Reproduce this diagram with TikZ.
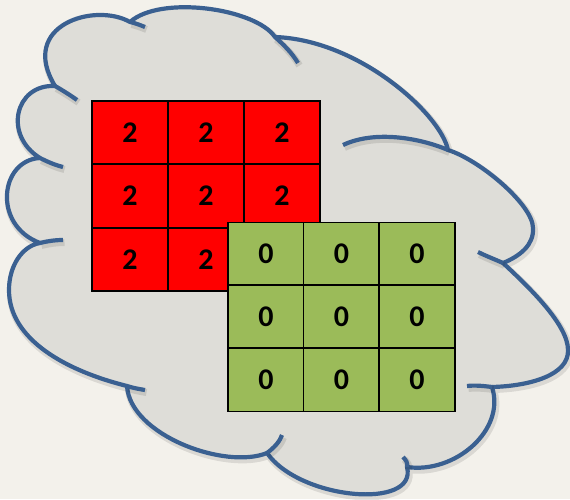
\documentclass[tikz,border=0pt]{standalone}
\usepackage{fontspec}
\setmainfont{Carlito}
\usepackage{tikz}

\begin{document}
\begin{tikzpicture}[x=1pt,y=-1pt,
  cloudline/.style={draw=cloudblue,line width=4.2pt,preaction={draw=black,opacity=0.1,line width=7pt,transform canvas={shift={(1.5pt,-2.5pt)}}}},
  redcell/.style={draw=black,fill=red,line width=1.7pt,minimum width=76pt,minimum height=63pt,inner sep=0pt,outer sep=0pt,font=\fontsize{30}{30}\selectfont\bfseries},
  greencell/.style={redcell,fill=cellgreen}]
\definecolor{paper}{RGB}{243,241,235}
\definecolor{cloudgrey}{RGB}{222,221,216}
\definecolor{cloudblue}{RGB}{58,96,145}
\definecolor{cellgreen}{RGB}{155,187,89}
\fill[paper] (0,0) rectangle (570,499);
\useasboundingbox (0,0) rectangle (570,499);
\draw[fill=cloudgrey,cloudline,line join=round] (40,243) .. controls (22,246) and (9,266) .. (9,290)
 .. controls (9,340) and (67,371) .. (127,386)
 .. controls (130,435) and (225,470) .. (267,453)
 .. controls (300,500) and (418,510) .. (407,467)
 .. controls (455,474) and (506,430) .. (492,387)
 .. controls (530,386) and (569,375) .. (568,350)
 .. controls (568,325) and (530,288) .. (503,263)
 .. controls (520,256) and (534,245) .. (533,228)
 .. controls (533,205) and (480,160) .. (448,150)
 .. controls (441,115) and (360,40) .. (275,37)
 .. controls (255,8) and (160,-5) .. (130,22)
 .. controls (95,2) and (18,25) .. (55,86)
 .. controls (15,84) and (3,135) .. (40,158)
 .. controls (0,160) and (-8,225) .. (40,243) -- cycle;
\draw[cloudline] (40,243) .. controls (48,241) and (55,240) .. (63,240);
\draw[cloudline] (127,386) .. controls (133,388) and (139,389) .. (145,390);
\draw[cloudline] (267,453) .. controls (275,447) and (280,441) .. (282,435);
\draw[cloudline] (407,467) .. controls (408,463) and (406,460) .. (403,457);
\draw[cloudline] (492,387) .. controls (484,386) and (475,385) .. (467,386);
\draw[cloudline] (503,263) .. controls (494,259) and (486,256) .. (478,252);
\draw[cloudline] (448,150) .. controls (420,138) and (375,130) .. (343,145);
\draw[cloudline] (275,37) .. controls (284,45) and (292,53) .. (298,63);
\draw[cloudline] (130,22) .. controls (135,23) and (140,25) .. (145,27);
\draw[cloudline] (55,86) .. controls (62,90) and (70,95) .. (77,100);
\draw[cloudline] (40,158) .. controls (48,162) and (55,165) .. (63,167);
\node[redcell] (r1) at (130,132.5) {2};
\node[redcell] (r2) at (206,132.5) {2};
\node[redcell] (r3) at (282,132.5) {2};
\node[redcell] (r4) at (130,196) {2};
\node[redcell] (r5) at (206,196) {2};
\node[redcell] (r6) at (282,196) {2};
\node[redcell] (r7) at (130,259.5) {2};
\node[redcell] (r8) at (206,259.5) {2};
\node[redcell] (r9) at (282,259.5) {2};
\node[greencell] (g1) at (266,254) {0};
\node[greencell] (g2) at (341.5,254) {0};
\node[greencell] (g3) at (417,254) {0};
\node[greencell] (g4) at (266,316.5) {0};
\node[greencell] (g5) at (341.5,316.5) {0};
\node[greencell] (g6) at (417,316.5) {0};
\node[greencell] (g7) at (266,380) {0};
\node[greencell] (g8) at (341.5,380) {0};
\node[greencell] (g9) at (417,380) {0};
\end{tikzpicture}
\end{document}
